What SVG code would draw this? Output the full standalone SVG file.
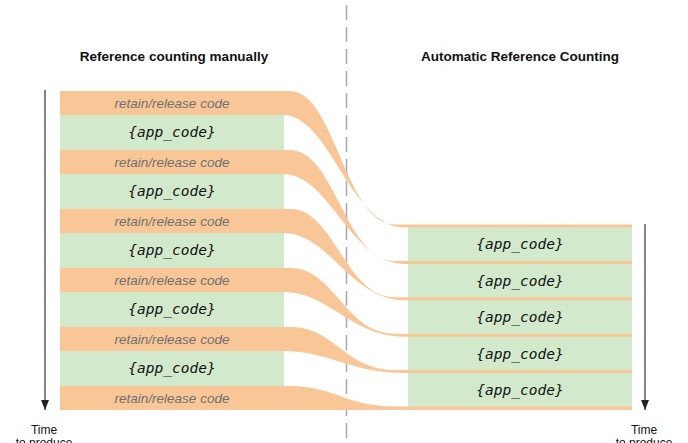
<svg xmlns="http://www.w3.org/2000/svg" width="688" height="443" viewBox="0 0 688 443">
<style>
.title{font-family:"Liberation Sans",Arial,sans-serif;font-weight:bold;font-size:13.5px;fill:#111;text-anchor:middle}
.rr{font-family:"Liberation Sans",Arial,sans-serif;font-style:italic;font-size:13.5px;fill:#6f6f6f;text-anchor:middle}
.app{font-family:"DejaVu Sans Mono",monospace;font-style:oblique;font-size:14.5px;fill:#111;text-anchor:middle}
.time{font-family:"Liberation Sans",Arial,sans-serif;font-size:12px;fill:#111;text-anchor:middle}
.or{fill:#F9C797}
.gr{fill:#D3E9CC}
.axis{stroke:#333;stroke-width:1.2;fill:none}
</style>
<defs>
<marker id="ah" viewBox="0 0 10 8" refX="10" refY="4" markerWidth="10" markerHeight="8" markerUnits="userSpaceOnUse" orient="auto">
<path d="M0,0 L10,4 L0,8 Z" fill="#222"/>
</marker>
</defs>
<rect width="688" height="443" fill="#fff"/>
<line x1="346.5" y1="0" x2="346.5" y2="443" stroke="#a8a8b0" stroke-width="1.5" stroke-dasharray="15 7" stroke-dashoffset="-5"/>
<text class="title" x="174" y="61">Reference counting manually</text>
<text class="title" x="520" y="61">Automatic Reference Counting</text>
<g id="right-green">
<rect class="gr" x="408" y="226" width="224" height="182"/>
</g>
<g id="connectors">
<path class="or" d="M60,91 H290 C335,91 345,224.5 395,224.5 H632 V227.5 H405 C350,227.5 330,115 283,115 H60 Z"/>
<path class="or" d="M60,150 H290 C335,150 345,260.9 395,260.9 H632 V263.9 H405 C350,263.9 330,174 283,174 H60 Z"/>
<path class="or" d="M60,209 H290 C335,209 345,297.3 395,297.3 H632 V300.3 H405 C350,300.3 330,233 283,233 H60 Z"/>
<path class="or" d="M60,268 H290 C335,268 345,333.7 395,333.7 H632 V336.7 H405 C350,336.7 330,292 283,292 H60 Z"/>
<path class="or" d="M60,327 H290 C335,327 345,370.1 395,370.1 H632 V373.1 H405 C350,373.1 330,351 283,351 H60 Z"/>
<path class="or" d="M60,386 H290 C335,386 345,406.5 395,406.5 H632 V410 H60 Z"/>
</g>
<g id="left-app">
<rect class="gr" x="60" y="115" width="224" height="35"/>
<rect class="gr" x="60" y="174" width="224" height="35"/>
<rect class="gr" x="60" y="233" width="224" height="35"/>
<rect class="gr" x="60" y="292" width="224" height="35"/>
<rect class="gr" x="60" y="351" width="224" height="35"/>
</g>
<g id="left-text">
<text class="rr" x="172" y="107.5">retain/release code</text>
<text class="rr" x="172" y="166.5">retain/release code</text>
<text class="rr" x="172" y="225.5">retain/release code</text>
<text class="rr" x="172" y="284.5">retain/release code</text>
<text class="rr" x="172" y="343.5">retain/release code</text>
<text class="rr" x="172" y="402.5">retain/release code</text>
<text class="app" x="172" y="137">{app_code}</text>
<text class="app" x="172" y="196">{app_code}</text>
<text class="app" x="172" y="255">{app_code}</text>
<text class="app" x="172" y="314">{app_code}</text>
<text class="app" x="172" y="373">{app_code}</text>
</g>
<g id="right-text">
<text class="app" x="520" y="249">{app_code}</text>
<text class="app" x="520" y="285.5">{app_code}</text>
<text class="app" x="520" y="322">{app_code}</text>
<text class="app" x="520" y="358.5">{app_code}</text>
<text class="app" x="520" y="395">{app_code}</text>
</g>
<g id="axes">
<line class="axis" x1="45" y1="90" x2="45" y2="410" marker-end="url(#ah)"/>
<line class="axis" x1="645" y1="224" x2="645" y2="410" marker-end="url(#ah)"/>
<text class="time" x="44" y="434">Time</text>
<text class="time" x="44" y="447">to produce</text>
<text class="time" x="644" y="434">Time</text>
<text class="time" x="644" y="447">to produce</text>
</g>
</svg>
